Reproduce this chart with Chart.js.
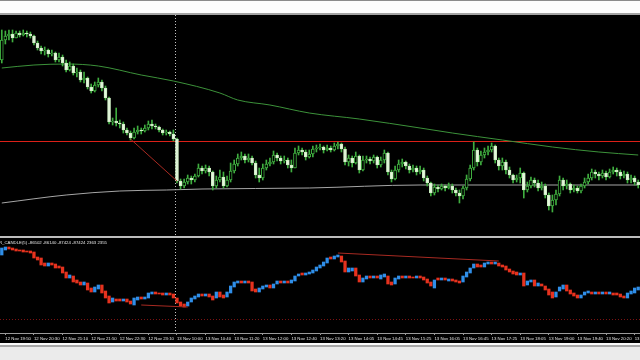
<!DOCTYPE html>
<html>
<head>
<meta charset="utf-8">
<script src="https://cdn.jsdelivr.net/npm/chart.js@4.4.1/dist/chart.umd.min.js"></script>
<style>
body { margin:0; width:640px; height:360px; overflow:hidden; background:#ebebeb; }
.topbar { height:12px; background:#fdfdfd; border-top:1px solid #8c8c8c; border-bottom:2px solid #a4a4a4; }
.chartbox { width:640px; height:328px; background:#000; }
.chartbox canvas { display:block; }
.bottombar { height:13px; border-top:2px solid #fafafa; }
.bottombar div { height:11px; border-top:2px solid #a8a8a8; background:#ebebeb; }
</style>
</head>
<body>
<div class="topbar"></div>
<div class="chartbox"><canvas id="chart" width="640" height="328"></canvas></div>
<div class="bottombar"><div></div></div>

<script>
// price pane (5 min candles), values in points
const first_open = 176
const close_price = [
    196,200,202,198,203,201,203,202,200,193,
    188,185,186,182,183,176,179,173,166,170,
    163,164,156,158,149,145,151,154,148,138,
    114,115,113,112,106,103,98,104,106,105,
    108,112,110,109,106,103,104,102,97,55,
    50,54,58,56,60,68,65,68,64,50,
    56,59,50,56,65,72,78,80,76,78,
    73,61,58,68,72,74,81,78,75,76,
    71,68,83,86,84,79,82,87,88,89,
    86,88,86,90,92,87,74,78,73,80,
    66,76,77,75,79,71,76,83,64,57,
    66,72,74,70,66,68,64,66,58,53,
    43,49,47,50,48,50,46,43,40,48,
    57,68,86,74,81,84,86,90,76,70,
    74,66,61,56,58,63,46,50,56,53,
    48,50,41,30,36,42,56,50,52,46,
    48,45,50,54,58,64,62,60,63,59,
    64,66,64,60,62,56,58,54,51
]
const high_price = [
    206,205,206,206,205,205,206,205,204,201,
    195,190,189,187,186,184,183,181,176,174,
    172,168,166,164,159,152,154,158,156,150,
    139,118,128,116,114,108,105,108,110,108,
    111,115,116,112,110,107,106,105,106,98,
    57,57,61,60,62,72,70,71,70,65,
    60,66,64,60,73,76,82,84,82,82,
    80,75,68,72,76,78,85,83,80,80,
    78,76,88,90,88,86,86,90,91,92,
    90,91,90,93,94,93,89,81,80,84,
    81,80,80,79,81,80,79,86,84,66,
    70,76,77,75,72,71,70,70,68,60,
    54,52,51,52,51,53,52,48,46,50,
    61,71,94,88,85,88,90,93,91,78,
    78,76,69,62,61,68,64,54,59,58,
    56,54,52,43,41,46,60,58,56,53,
    51,50,52,58,62,67,66,64,66,65,
    67,69,68,66,65,64,61,60,56
]
const low_price = [
    173,192,196,194,198,199,200,199,198,191,
    186,182,181,179,180,174,174,170,164,165,
    161,159,154,153,147,143,144,149,145,136,
    112,111,110,108,103,101,96,97,102,102,
    104,106,107,107,104,101,101,100,95,53,
    47,48,52,52,54,59,62,63,60,46,
    48,54,48,49,54,63,70,76,73,74,
    71,58,54,56,66,70,72,75,72,73,
    68,64,68,81,81,76,78,79,84,86,
    83,85,84,85,87,84,71,70,69,72,
    63,65,73,72,73,68,69,73,61,54,
    56,64,69,67,63,64,61,62,55,50,
    40,41,44,46,45,47,43,40,33,37,
    46,55,66,70,71,78,81,84,73,66,
    66,62,58,53,54,53,38,44,48,49,
    45,46,38,26,24,31,40,46,47,43,
    44,43,43,48,52,56,58,56,58,56,
    58,62,60,57,58,53,53,51,48
]

// moving averages (bar index / value)
const ma_slow_bar = [0, 9, 18, 27, 39, 48, 61, 66, 75, 86, 100, 117, 126, 140, 154, 167, 178]
const ma_slow_val = [168, 171, 172, 170, 161, 155, 143, 136, 131, 123, 117, 108, 103, 96, 89, 84, 81]
const ma_long_bar = [0, 18, 33, 46, 56, 86, 117, 178]
const ma_long_val = [33, 41, 45, 46, 47, 48, 51, 51]

const level_price = 95
const trend_bar = [36, 49]
const trend_val = [97, 55]

// indicator pane candles
const ind_open = [
    78,83,86,85,84,83,83,82,82,81,
    76,75,70,67,70,69,67,66,61,55,
    57,53,51,48,50,45,41,44,48,42,
    37,31,34,34,32,34,32,28,33,36,
    34,35,39,41,40,40,38,40,39,35,
    31,29,27,31,34,36,39,37,39,37,
    35,41,38,36,40,46,50,52,50,52,
    51,44,41,44,46,48,45,49,52,50,
    52,50,52,57,60,58,59,60,62,65,
    67,70,76,74,76,77,72,61,62,65,
    58,51,54,57,55,57,54,56,57,51,
    49,54,57,55,57,56,55,57,56,54,
    51,45,55,53,55,52,54,53,52,51,
    56,60,65,69,68,66,69,71,69,70,
    68,67,64,62,61,58,60,48,51,53,
    47,49,47,44,41,36,42,44,48,43,
    40,38,35,38,40,41,39,41,39,41,
    39,40,40,39,37,35,39,40,43
]
const ind_close = [
    85,86,84,83,82,82,81,81,80,75,
    73,68,67,70,68,65,65,60,55,58,
    51,50,48,51,43,41,46,48,40,35,
    30,35,32,32,34,31,29,35,36,34,
    36,40,41,39,39,38,40,38,35,30,
    27,26,31,35,37,39,37,39,36,33,
    41,36,35,41,47,51,52,50,52,50,
    42,41,45,47,48,45,49,52,50,52,
    50,53,57,59,58,60,61,63,66,68,
    71,75,74,77,78,71,61,65,65,57,
    51,55,57,55,57,55,58,59,49,48,
    55,57,55,57,55,55,57,55,53,50,
    47,53,53,55,53,54,52,51,50,57,
    61,65,69,66,66,70,71,69,71,67,
    66,63,61,59,58,60,47,52,53,47,
    50,47,43,38,35,41,46,48,42,39,
    37,35,38,41,42,39,41,39,41,39,
    41,38,38,36,35,40,42,45,46
]
const ind_level = 14
const ind_trend1_bar = [39, 52]
const ind_trend1_val = [28, 26]
const ind_trend2_bar = [94, 139]
const ind_trend2_val = [80, 72]
const ind_caption = 'R_CANDLE(5) -86502 -86140 -87424 -87424 2363 2355'

// time axis
const tick_bar = [1, 9, 17, 25, 33, 41, 49, 57, 65, 73, 81, 89, 97, 105, 113, 121, 129, 137, 145, 153, 161, 169, 177]
const tick_text = ['12 Nov 19:50','12 Nov 20:30','12 Nov 21:10','12 Nov 21:50','12 Nov 22:30','12 Nov 23:10',
    '13 Nov 10:00','13 Nov 10:40','13 Nov 11:20','13 Nov 12:00','13 Nov 12:40','13 Nov 13:20','13 Nov 14:05',
    '13 Nov 14:45','13 Nov 15:25','13 Nov 16:05','13 Nov 16:45','13 Nov 17:25','13 Nov 18:05','13 Nov 19:00',
    '13 Nov 19:40','13 Nov 20:20','13 Nov 21:00']
const day_break = 48.5


let open_price = close_price.map((c, i) => i === 0 ? first_open : close_price[i - 1]) // opens at previous close

const wick_color = '#3fae3f'
const bear_fill = '#e6f6df'

function points(bars, vals) {
    return bars.map((b, i) => ({x: b, y: vals[i]}))
}

const pane_plugin = {
    id: 'pane_plugin',
    beforeDatasetsDraw(chart) {
        const ctx = chart.ctx
        const area = chart.chartArea
        const x = chart.scales.x, y = chart.scales.y, y2 = chart.scales.y2
        ctx.save()

        // red level line
        let py = Math.round(y.getPixelForValue(level_price)) + 0.5
        ctx.strokeStyle = '#dc2018'
        ctx.lineWidth = 1
        ctx.beginPath(); ctx.moveTo(area.left, py); ctx.lineTo(area.right, py); ctx.stroke()

        // indicator dotted level
        py = Math.round(y2.getPixelForValue(ind_level)) + 0.5
        ctx.strokeStyle = '#7c1212'
        ctx.setLineDash([1, 2])
        ctx.beginPath(); ctx.moveTo(area.left, py); ctx.lineTo(area.right, py); ctx.stroke()

        // day separator
        let px = Math.round(x.getPixelForValue(day_break)) + 0.5
        ctx.strokeStyle = '#c4c4c4'
        ctx.beginPath(); ctx.moveTo(px, area.top); ctx.lineTo(px, area.bottom); ctx.stroke()
        ctx.setLineDash([])

        // pane border
        ctx.fillStyle = '#bcbcbc'
        ctx.fillRect(area.left, Math.round(y.getPixelForValue(0)), area.right - area.left, 2)
        ctx.restore()
    },
    afterDraw(chart) {
        const ctx = chart.ctx
        ctx.save()
        ctx.font = '4.3px "Liberation Sans"'
        ctx.fillStyle = '#e4e4e4'
        ctx.textBaseline = 'top'
        ctx.fillText(ind_caption, -1, chart.scales.y.getPixelForValue(-2) + 3)
        ctx.restore()
    }
}

const main_chart = new Chart(document.getElementById('chart'), {
    type: 'bar',
    data: {
        datasets: [
            {
                label: 'body',
                yAxisID: 'y',
                grouped: false,
                order: 1,
                barThickness: 3,
                minBarLength: 1,
                borderSkipped: false,
                borderWidth: 1,
                data: close_price.map((c, i) => ({x: i, y: [open_price[i], c]})),
                backgroundColor: close_price.map((c, i) => c < open_price[i] ? bear_fill : '#000'),
                borderColor: close_price.map((c, i) => c < open_price[i] ? '#cdeec2' : wick_color)
            },
            {
                label: 'wick',
                yAxisID: 'y',
                grouped: false,
                order: 2,
                barThickness: 1,
                data: close_price.map((c, i) => ({x: i, y: [low_price[i], high_price[i]]})),
                backgroundColor: wick_color
            },
            {
                label: 'indicator',
                yAxisID: 'y2',
                grouped: false,
                order: 1,
                barThickness: 2.6,
                minBarLength: 1,
                data: ind_close.map((c, i) => ({x: i, y: [ind_open[i], c]})),
                backgroundColor: ind_close.map((c, i) => c >= ind_open[i] ? '#2f8ee8' : '#e6321e')
            },
            {
                type: 'line', label: 'ma slow', yAxisID: 'y', order: 3,
                data: points(ma_slow_bar, ma_slow_val),
                borderColor: '#3c923a', borderWidth: 1, pointRadius: 0, cubicInterpolationMode: 'monotone'
            },
            {
                type: 'line', label: 'ma long', yAxisID: 'y', order: 3,
                data: points(ma_long_bar, ma_long_val),
                borderColor: '#a6a6a6', borderWidth: 1, pointRadius: 0, cubicInterpolationMode: 'monotone'
            },
            {
                type: 'line', label: 'trend', yAxisID: 'y', order: 0,
                data: points(trend_bar, trend_val),
                borderColor: '#a82a22', borderWidth: 1, pointRadius: 0
            },
            {
                type: 'line', label: 'ind trend 1', yAxisID: 'y2', order: 0,
                data: points(ind_trend1_bar, ind_trend1_val),
                borderColor: '#a82a22', borderWidth: 1, pointRadius: 0
            },
            {
                type: 'line', label: 'ind trend 2', yAxisID: 'y2', order: 0,
                data: points(ind_trend2_bar, ind_trend2_val),
                borderColor: '#a82a22', borderWidth: 1, pointRadius: 0
            }
        ]
    },
    options: {
        responsive: false,
        animation: false,
        layout: { padding: 0 },
        scales: {
            x: {
                type: 'linear',
                offset: false,
                min: -0.5,
                max: 178.5,
                grid: { offset: false, drawOnChartArea: false, color: '#9a9a9a', tickLength: 2 },
                border: { color: '#9a9a9a' },
                afterBuildTicks: function(scale) { scale.ticks = tick_bar.map(v => ({value: v})) },
                afterFit: function(scale) { scale.height = 10; scale.paddingLeft = 0; scale.paddingRight = 0 },
                ticks: {
                    autoSkip: false,
                    maxRotation: 0,
                    minRotation: 0,
                    align: 'start',
                    padding: 1,
                    color: '#e2e2e2',
                    font: { family: 'Liberation Sans', size: 4.3 },
                    callback: function(value) { return tick_text[tick_bar.indexOf(value)] }
                }
            },
            y: { display: false, min: -97, max: 221 },
            y2: { display: false, min: 0, max: 318 }
        },
        plugins: {
            legend: { display: false },
            tooltip: { enabled: false }
        }
    },
    plugins: [pane_plugin]
});
</script>
</body>
</html>
